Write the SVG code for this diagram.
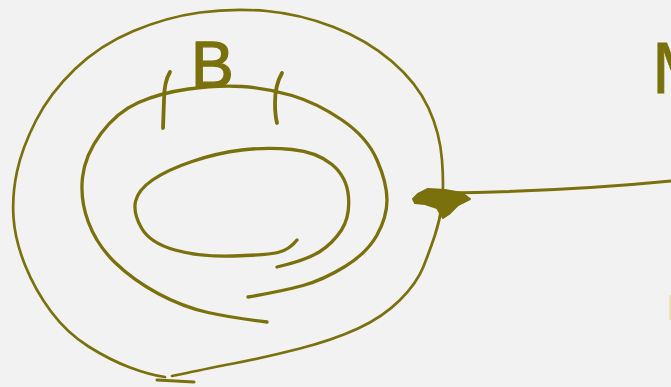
<svg xmlns="http://www.w3.org/2000/svg" width="671" height="387" viewBox="0 0 671 387">
<style>
.s{fill:none;stroke:#7a700c;stroke-linecap:round;stroke-linejoin:round}
.t{fill:#7a700c;font-family:"Liberation Sans",Arial,sans-serif}
</style>
<rect width="671" height="387" fill="#f2f2f2"/>
<g id="coil">
<path class="s" stroke-width="2.7" d="M165,377 Q150,375 130,367.5 Q110,360 88.5,346.5 Q67,333 51,311.5 Q35,290 25,265 Q15,240 13.5,217.5 Q12,195 17,171.5 Q22,148 36,120.5 Q50,93 75,69 Q100,45 133.5,31 Q167,17 200,12.5 Q233,8 266.5,11 Q300,14 333.5,27 Q367,40 392,61.5 Q417,83 428.5,108 Q440,133 442,160 Q444,187 442,203.5 Q440,220 435,235 Q430,250 423.5,266.5 Q417,283 400,300 Q383,317 358,328.5 Q333,340 300,348.5 Q267,357 233.5,363.5 Q200,370 182,374 L172,376"/>
<path class="s" stroke-width="3" d="M157,380 L194,382"/>
<path class="s" stroke-width="3.3" d="M267,322 Q233,318 208,312.5 Q183,307 158,293.5 Q133,280 115,262.5 Q97,245 88.5,222.5 Q80,200 82.5,177.5 Q85,155 101,133.5 Q117,112 138.5,102.5 Q160,93 188.5,89 Q217,85 242,86.5 Q267,88 292,95.5 Q317,103 342,120 Q367,137 377,160 Q387,183 387,200 Q387,217 377,235 Q367,253 345,266.5 Q323,280 303,285.5 Q283,291 248,297"/>
<path class="s" stroke-width="3.3" d="M297,240 Q289,250 278,252.5 Q267,255 233.5,256 Q200,257 175,250 Q150,243 141.5,228 Q133,213 135.5,201.5 Q138,190 152.5,180 Q167,170 192,161.5 Q217,153 242,150 Q267,147 292,149.5 Q317,152 332,164.5 Q347,177 348.5,197 Q350,217 341.5,230 Q333,243 320,251.5 Q307,260 277,267"/>
</g>
<g id="label-B">
<path class="s" stroke-width="3.8" d="M170,72 Q164,82 164,100 L163,128"/>
<path class="s" stroke-width="3.8" d="M282,73 Q275,85 275,103 Q275,115 277,123"/>
<text class="t" x="191" y="87" font-size="64" stroke="#7a700c" stroke-width="1.4" stroke-linejoin="round">B</text>
</g>
<g id="connectors">
<path class="s" stroke-width="3" d="M443,193 C520,192 600,188 671,181"/>
<polygon fill="#7a700c" stroke="#7a700c" stroke-width="2" stroke-linejoin="round" points="413,199 418,194 428,189 445,190 462,193 470,199 458,205 449,214 443,218 437,208 425,204 415,203"/>
</g>
<g id="edge-marks">
<text class="t" x="652" y="93" font-size="72" stroke="#7a700c" stroke-width="0.8">M</text>
<path fill="none" stroke="#e6dc96" stroke-width="2" opacity="0.6" d="M670,295 L670,320"/>
</g>
</svg>
